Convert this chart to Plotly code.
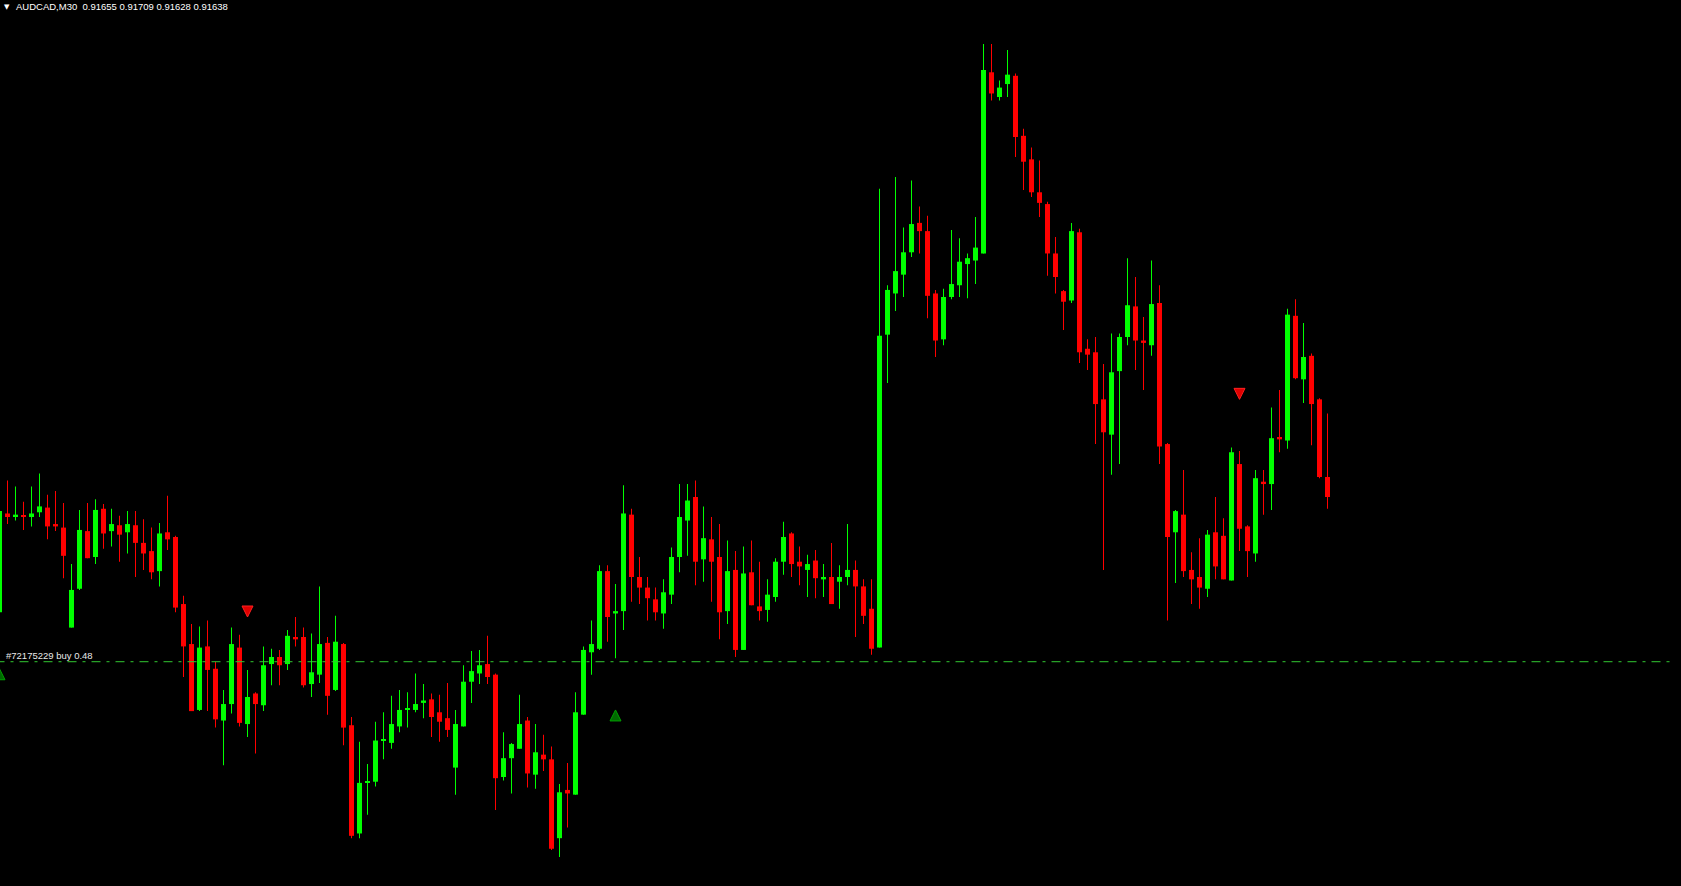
import plotly.graph_objects as go

# ---- data (AUDCAD M30) ----
bar_index = list(range(-1, 166))

opens = [0.91540,0.91624,0.91621,0.91622,0.91621,0.91625,0.91629,0.91615,0.91612,0.91527,0.91560,0.91609,0.91587,0.91628,0.91609,0.91614,0.91608,0.91614,0.91599,0.91592,0.91575,0.91608,0.91604,0.91547,0.91513,0.91457,0.91511,0.91492,0.91448,0.91462,0.91510,0.91445,0.91471,0.91461,0.91496,0.91502,0.91496,0.91519,0.91519,0.91479,0.91487,0.91514,0.91474,0.91513,0.91444,0.91352,0.91395,0.91396,0.91431,0.91429,0.91443,0.91457,0.91457,0.91463,0.91466,0.91455,0.91450,0.91408,0.91443,0.91481,0.91488,0.91496,0.91487,0.91400,0.91416,0.91424,0.91448,0.91402,0.91419,0.91415,0.91348,0.91389,0.91385,0.91453,0.91506,0.91509,0.91575,0.91539,0.91541,0.91623,0.91570,0.91561,0.91551,0.91539,0.91555,0.91587,0.91618,0.91638,0.91585,0.91602,0.91587,0.91541,0.91576,0.91508,0.91574,0.91545,0.91542,0.91553,0.91583,0.91607,0.91583,0.91576,0.91584,0.91568,0.91570,0.91566,0.91570,0.91576,0.91562,0.91543,0.91510,0.91776,0.91811,0.91827,0.91846,0.91871,0.91864,0.91811,0.91772,0.91808,0.91818,0.91836,0.91839,0.91845,0.91999,0.91978,0.91989,0.91996,0.91945,0.91925,0.91897,0.91887,0.91845,0.91813,0.91805,0.91863,0.91764,0.91761,0.91721,0.91691,0.91745,0.91774,0.91800,0.91771,0.91767,0.91803,0.91683,0.91608,0.91623,0.91576,0.91570,0.91560,0.91608,0.91605,0.91567,0.91666,0.91613,0.91590,0.91651,0.91649,0.91689,0.91686,0.91792,0.91738,0.91758,0.91721,0.91655]

highs = [0.91626,0.91652,0.91647,0.91634,0.91647,0.91658,0.91640,0.91643,0.91633,0.91581,0.91627,0.91633,0.91636,0.91632,0.91628,0.91622,0.91626,0.91626,0.91619,0.91612,0.91616,0.91639,0.91605,0.91554,0.91530,0.91528,0.91533,0.91498,0.91474,0.91527,0.91521,0.91491,0.91472,0.91511,0.91509,0.91508,0.91525,0.91536,0.91527,0.91522,0.91562,0.91519,0.91537,0.91514,0.91451,0.91430,0.91411,0.91447,0.91455,0.91469,0.91474,0.91472,0.91488,0.91479,0.91471,0.91470,0.91480,0.91457,0.91495,0.91507,0.91508,0.91520,0.91488,0.91438,0.91429,0.91470,0.91451,0.91445,0.91436,0.91426,0.91394,0.91412,0.91472,0.91511,0.91533,0.91580,0.91580,0.91564,0.91648,0.91628,0.91587,0.91570,0.91561,0.91568,0.91595,0.91649,0.91649,0.91652,0.91630,0.91621,0.91615,0.91601,0.91592,0.91596,0.91601,0.91583,0.91568,0.91586,0.91617,0.91608,0.91596,0.91589,0.91593,0.91581,0.91599,0.91580,0.91615,0.91584,0.91568,0.91568,0.91900,0.91818,0.91910,0.91867,0.91907,0.91885,0.91877,0.91814,0.91815,0.91865,0.91858,0.91845,0.91876,0.92023,0.92023,0.91992,0.92018,0.91998,0.91951,0.91935,0.91924,0.91889,0.91859,0.91814,0.91871,0.91866,0.91772,0.91774,0.91751,0.91777,0.91777,0.91841,0.91825,0.91791,0.91839,0.91818,0.91684,0.91627,0.91661,0.91591,0.91603,0.91610,0.91638,0.91620,0.91680,0.91677,0.91614,0.91661,0.91661,0.91714,0.91729,0.91798,0.91806,0.91786,0.91760,0.91722,0.91709]

lows = [0.91540,0.91615,0.91618,0.91610,0.91613,0.91621,0.91602,0.91609,0.91569,0.91527,0.91559,0.91586,0.91581,0.91594,0.91596,0.91583,0.91590,0.91570,0.91576,0.91568,0.91562,0.91593,0.91540,0.91485,0.91456,0.91456,0.91456,0.91442,0.91410,0.91454,0.91443,0.91434,0.91420,0.91456,0.91478,0.91478,0.91491,0.91511,0.91476,0.91468,0.91480,0.91453,0.91473,0.91427,0.91348,0.91348,0.91368,0.91392,0.91415,0.91424,0.91438,0.91442,0.91455,0.91450,0.91434,0.91430,0.91434,0.91385,0.91443,0.91463,0.91479,0.91479,0.91372,0.91397,0.91386,0.91424,0.91391,0.91390,0.91405,0.91338,0.91332,0.91357,0.91385,0.91453,0.91487,0.91508,0.91515,0.91501,0.91525,0.91549,0.91547,0.91533,0.91533,0.91526,0.91547,0.91574,0.91588,0.91563,0.91566,0.91549,0.91517,0.91530,0.91502,0.91508,0.91546,0.91533,0.91532,0.91549,0.91572,0.91570,0.91563,0.91553,0.91552,0.91553,0.91547,0.91543,0.91563,0.91519,0.91530,0.91504,0.91510,0.91735,0.91796,0.91808,0.91842,0.91845,0.91790,0.91757,0.91767,0.91806,0.91808,0.91807,0.91819,0.91845,0.91975,0.91975,0.91978,0.91927,0.91899,0.91893,0.91876,0.91826,0.91811,0.91780,0.91803,0.91752,0.91746,0.91683,0.91576,0.91657,0.91666,0.91767,0.91746,0.91729,0.91758,0.91666,0.91533,0.91565,0.91570,0.91547,0.91543,0.91553,0.91568,0.91568,0.91567,0.91592,0.91570,0.91583,0.91623,0.91627,0.91676,0.91679,0.91738,0.91718,0.91682,0.91654,0.91628]

closes = [0.91626,0.91621,0.91623,0.91621,0.91624,0.91630,0.91613,0.91613,0.91588,0.91559,0.91610,0.91586,0.91627,0.91607,0.91615,0.91606,0.91615,0.91599,0.91590,0.91574,0.91607,0.91602,0.91544,0.91511,0.91456,0.91510,0.91491,0.91449,0.91462,0.91513,0.91446,0.91468,0.91462,0.91495,0.91502,0.91495,0.91520,0.91517,0.91478,0.91489,0.91513,0.91469,0.91515,0.91442,0.91350,0.91395,0.91396,0.91431,0.91432,0.91445,0.91457,0.91458,0.91462,0.91465,0.91451,0.91447,0.91440,0.91445,0.91481,0.91490,0.91495,0.91485,0.91399,0.91416,0.91428,0.91445,0.91403,0.91421,0.91415,0.91339,0.91387,0.91386,0.91455,0.91508,0.91513,0.91575,0.91536,0.91541,0.91624,0.91570,0.91561,0.91552,0.91540,0.91557,0.91587,0.91621,0.91635,0.91583,0.91603,0.91583,0.91540,0.91575,0.91508,0.91573,0.91546,0.91541,0.91555,0.91583,0.91604,0.91581,0.91579,0.91581,0.91569,0.91570,0.91547,0.91570,0.91576,0.91562,0.91537,0.91509,0.91775,0.91814,0.91830,0.91846,0.91870,0.91864,0.91809,0.91771,0.91808,0.91819,0.91838,0.91841,0.91850,0.92001,0.91981,0.91986,0.91997,0.91944,0.91923,0.91897,0.91888,0.91845,0.91825,0.91804,0.91864,0.91761,0.91759,0.91717,0.91693,0.91744,0.91774,0.91801,0.91771,0.91769,0.91802,0.91681,0.91604,0.91626,0.91575,0.91568,0.91561,0.91606,0.91579,0.91568,0.91676,0.91611,0.91592,0.91654,0.91649,0.91688,0.91687,0.91793,0.91739,0.91757,0.91717,0.91655,0.91638]

symbol_label = "AUDCAD,M30"
order_label = "#72175229 buy 0.48"
order_price = 0.91498
sell_arrows_x = [30, 154]
sell_arrows_price = [0.91536, 0.91721]
buy_arrows_x = [-1, 76]
buy_arrows_price = [0.91492, 0.91457]

# ---- geometry of the MT4-like view ----
W, H = 1681, 886
PX_X = 8.0            # pixels per bar
X0_PX = 7.5           # pixel centre of bar 0
PRICE_TOP = 0.9206045
PRICE_PER_PX = 0.0000085
PRICE_BOTTOM = PRICE_TOP - H * PRICE_PER_PX

BULL = "#00FF00"
BEAR = "#FF0000"

fig = go.Figure()

# order line (behind candles)
fig.add_trace(go.Scatter(
    x=[-1.5, (1672 - X0_PX) / PX_X], y=[order_price, order_price],
    mode="lines", line=dict(color="#32C832", width=1, dash="9px,6px,3px,6px"),
    hoverinfo="skip", showlegend=False))

def add_group(idx, color):
    xs = [bar_index[i] for i in idx]
    wick_base = [lows[i] for i in idx]
    wick_len = [max(highs[i] - lows[i], PRICE_PER_PX) for i in idx]
    body_base = [min(opens[i], closes[i]) for i in idx]
    body_len = [max(abs(closes[i] - opens[i]), PRICE_PER_PX) for i in idx]
    fig.add_trace(go.Bar(x=xs, y=wick_len, base=wick_base, width=1 / PX_X,
                         marker=dict(color=color, line=dict(width=0)),
                         hoverinfo="skip", showlegend=False))
    fig.add_trace(go.Bar(x=xs, y=body_len, base=body_base, width=5 / PX_X,
                         marker=dict(color=color, line=dict(width=0)),
                         hoverinfo="skip", showlegend=False))

bull_idx = [i for i in range(len(bar_index)) if closes[i] >= opens[i]]
bear_idx = [i for i in range(len(bar_index)) if closes[i] < opens[i]]
add_group(bull_idx, BULL)
add_group(bear_idx, BEAR)

# trade arrows
fig.add_trace(go.Scatter(x=sell_arrows_x, y=sell_arrows_price, mode="markers",
                         marker=dict(symbol="arrow-down", size=11, color="#E00000",
                                     line=dict(color="#FF2020", width=1)),
                         hoverinfo="skip", showlegend=False))
fig.add_trace(go.Scatter(x=buy_arrows_x, y=buy_arrows_price, mode="markers",
                         marker=dict(symbol="arrow-up", size=11, color="#006A00",
                                     line=dict(color="#00A000", width=1)),
                         hoverinfo="skip", showlegend=False))

title_text = "%s  %.5f %.5f %.5f %.5f" % (symbol_label, opens[-1], highs[-1], lows[-1], closes[-1])

fig.update_layout(
    width=W, height=H,
    margin=dict(l=0, r=0, t=0, b=0),
    paper_bgcolor="black", plot_bgcolor="black",
    barmode="overlay",
    showlegend=False,
    xaxis=dict(range=[-X0_PX / PX_X, (W - X0_PX) / PX_X], visible=False,
               showgrid=False, zeroline=False, fixedrange=True),
    yaxis=dict(range=[PRICE_BOTTOM, PRICE_TOP], visible=False,
               showgrid=False, zeroline=False, fixedrange=True),
    annotations=[
        dict(text="▼", xref="paper", yref="paper", x=2 / W, y=1 - 7 / H,
             xanchor="left", yanchor="middle", showarrow=False,
             font=dict(family="DejaVu Sans", size=7, color="white")),
        dict(text=title_text, xref="paper", yref="paper", x=14 / W, y=1 - 7 / H,
             xanchor="left", yanchor="middle", showarrow=False,
             font=dict(family="Liberation Sans, Arial", size=9.5, color="white")),
        dict(text=order_label, xref="paper", yref="y", x=4 / W, y=order_price,
             yshift=6, xanchor="left", yanchor="middle", showarrow=False,
             font=dict(family="Liberation Sans, Arial", size=9.5, color="#E8E8E8")),
    ],
)

fig.write_html("out.html", config={"displayModeBar": False},
               post_script="document.body.style.margin='0';document.body.style.overflow='hidden';")
